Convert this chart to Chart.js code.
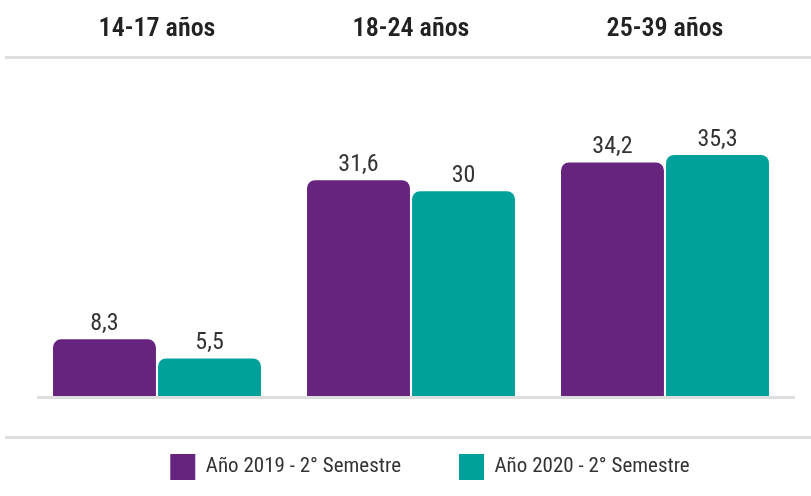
<!DOCTYPE html>
<html>
<head>
<meta charset="utf-8">
<script src="https://cdn.jsdelivr.net/npm/chart.js@4/dist/chart.umd.min.js"></script>
<style>
  html, body { margin: 0; padding: 0; background: #fff; }
  #wrap { width: 811px; height: 496px; }
</style>
</head>
<body>
<div id="wrap"><canvas id="chart" width="811" height="496"></canvas></div>
<script>
const categories = ["14-17 años", "18-24 años", "25-39 años"];
const seriesNames = ["Año 2019 - 2° Semestre", "Año 2020 - 2° Semestre"];
const values2019 = [8.3, 31.6, 34.2];
const values2020 = [5.5, 30, 35.3];

const PURPLE = "#66247f";
const TEAL = "#00a19a";
const LINE_GRAY = "#dedede";
const FONT = "'Liberation Sans Narrow', 'Roboto Condensed', Roboto, sans-serif";

// value labels above each bar, with comma decimals
const valueLabels = {
  id: "valueLabels",
  afterDatasetsDraw(chart) {
    const ctx = chart.ctx;
    ctx.save();
    ctx.font = "24px " + FONT;
    ctx.fillStyle = "#333";
    ctx.textAlign = "center";
    ctx.textBaseline = "bottom";
    chart.data.datasets.forEach((ds, i) => {
      chart.getDatasetMeta(i).data.forEach((bar, j) => {
        const txt = String(ds.data[j]).replace(".", ",");
        ctx.fillText(txt, bar.x, bar.y - 3);
      });
    });
    ctx.restore();
  }
};

// light gray rules: under the headers, the baseline, above the legend
const rules = {
  id: "rules",
  afterDraw(chart) {
    const ctx = chart.ctx;
    const base = chart.scales.y.getPixelForValue(0) + 1.5;
    ctx.save();
    ctx.strokeStyle = LINE_GRAY;
    ctx.lineWidth = 3;
    ctx.beginPath();
    ctx.moveTo(5, 57.5); ctx.lineTo(811, 57.5);
    ctx.moveTo(chart.chartArea.left + 7, base); ctx.lineTo(chart.chartArea.right + 3, base);
    ctx.moveTo(5, 437.5); ctx.lineTo(811, 437.5);
    ctx.stroke();
    ctx.restore();
  }
};

// the legend sits a bit right of the plot centre in the original
const legendShift = {
  id: "legendShift",
  afterUpdate(chart) {
    if (!chart.legend) return;
    chart.legend.left += 19;
    chart.legend.right += 19;
  }
};

new Chart(document.getElementById("chart"), {
  type: "bar",
  data: {
    labels: categories,
    datasets: [
      {
        label: seriesNames[0],
        data: values2019,
        backgroundColor: PURPLE,
        borderRadius: { topLeft: 8, topRight: 8 },
        borderSkipped: "start"
      },
      {
        label: seriesNames[1],
        data: values2020,
        backgroundColor: TEAL,
        borderRadius: { topLeft: 8, topRight: 8 },
        borderSkipped: "start"
      }
    ]
  },
  options: {
    responsive: false,
    animation: false,
    layout: { padding: { top: 14, left: 30, right: 19, bottom: 6 } },
    datasets: { bar: { categoryPercentage: 0.827, barPercentage: 0.98 } },
    scales: {
      x: {
        position: "top",
        grid: { display: false },
        border: { display: false },
        ticks: {
          color: "#222",
          padding: 0,
          font: { family: FONT, size: 26, weight: "600" }
        }
      },
      y: {
        display: false,
        min: 0,
        max: 50.2
      }
    },
    plugins: {
      tooltip: { enabled: false },
      legend: {
        position: "bottom",
        labels: {
          color: "#333",
          boxWidth: 25,
          boxHeight: 26,
          padding: 58,
          font: { family: FONT, size: 21 }
        }
      }
    }
  },
  plugins: [valueLabels, rules, legendShift]
});
</script>
</body>
</html>
